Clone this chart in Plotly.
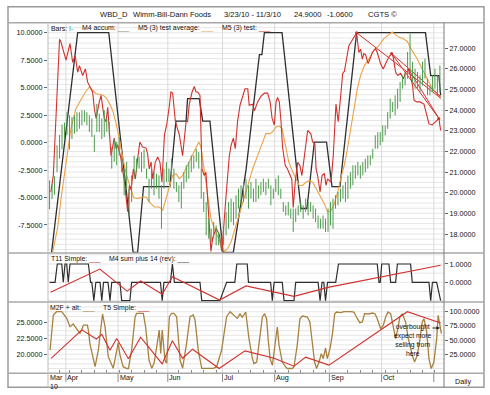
import numpy as np
import pandas as pd
import plotly.graph_objects as go

# ---------------- data ----------------
HOLIDAYS = ["2010-04-02", "2010-05-31", "2010-07-05", "2010-09-06"]
MONTH_NAMES = ["Mar", "Apr", "May", "Jun", "Jul", "Aug", "Sep", "Oct"]

BAR_HIGH = [20.6, 20.4, 20.8, 22.3, 22.8, 23.3, 23.4, 23.9, 23.75, 23.67,
            23.75, 23.9, 23.9, 24.0, 24.0, 23.9, 23.75, 23.6, 22.8, 24.3,
            23.83, 23.6, 24.0, 23.6, 23.43, 22.2, 22.6, 22.46, 22.7, 21.8,
            21.17, 21.5, 20.2, 20.84, 21.8, 21.65, 21.73, 21.97, 22.1, 21.17,
            20.68, 21.49, 21.0, 20.92, 20.84, 20.36, 21.17, 21.49, 21.17, 21.65,
            21.17, 20.52, 20.36, 20.52, 21.0, 21.33, 21.49, 21.81, 21.81, 22.13,
            21.97, 21.17, 20.04, 19.55, 18.74, 18.26, 18.58, 18.42, 18.1, 17.94,
            18.26, 19.07, 19.55, 19.71, 19.55, 19.88, 20.2, 20.36, 20.52, 20.68,
            20.36, 20.52, 20.2, 20.68, 20.36, 20.52, 20.68, 20.52, 20.68, 20.36,
            20.2, 20.68, 20.84, 20.2, 19.55, 19.39, 19.55, 19.23, 19.23, 19.23,
            19.39, 19.55, 19.39, 19.71, 19.55, 19.55, 19.39, 19.23, 18.9, 18.74,
            18.9, 18.74, 19.23, 19.55, 19.71, 19.88, 20.04, 20.2, 20.36, 20.52,
            20.84, 21.0, 21.33, 21.33, 21.49, 21.33, 21.49, 21.65, 21.81, 21.81,
            22.13, 22.78, 22.94, 22.94, 23.26, 23.26, 23.91, 24.56, 24.4, 24.72,
            25.04, 25.37, 25.69, 25.85, 26.82, 27.71, 26.34, 26.01, 25.85, 25.69,
            26.34, 26.5, 25.53, 25.2, 25.69, 26.01, 25.69, 26.17]
BAR_LOW = [19.2, 19.7, 19.9, 21.0, 21.65, 22.1, 22.6, 22.8, 22.1, 22.6,
           22.86, 22.95, 23.1, 23.27, 23.43, 23.27, 22.95, 22.7, 21.98, 22.95,
           22.95, 22.6, 22.7, 22.95, 22.8, 21.17, 21.5, 21.33, 21.8, 21.0,
           19.87, 20.2, 18.9, 19.55, 20.68, 21.0, 21.17, 21.0, 21.17, 20.68,
           19.55, 20.2, 19.88, 20.2, 19.71, 18.26, 20.2, 20.52, 20.52, 20.84,
           20.2, 20.04, 19.55, 19.23, 20.2, 20.52, 20.68, 21.0, 21.17, 21.49,
           21.17, 19.71, 19.07, 17.94, 17.77, 17.61, 17.77, 17.45, 17.45, 17.29,
           17.45, 17.94, 18.26, 18.58, 18.42, 18.74, 19.23, 19.39, 19.55, 19.71,
           19.23, 19.71, 19.55, 19.55, 19.71, 19.88, 20.04, 19.88, 20.2, 19.39,
           19.71, 20.04, 19.88, 19.71, 19.07, 18.9, 18.9, 18.74, 18.1, 18.58,
           18.9, 19.07, 18.74, 19.07, 18.9, 19.07, 18.74, 18.58, 18.26, 18.26,
           18.26, 18.1, 18.1, 18.42, 18.26, 19.23, 19.39, 19.55, 19.71, 19.55,
           19.71, 20.2, 20.36, 20.68, 20.84, 20.68, 20.84, 21.0, 21.17, 21.33,
           21.65, 22.13, 22.13, 22.3, 22.46, 22.78, 23.1, 23.59, 23.91, 23.75,
           24.07, 24.4, 25.04, 25.2, 25.53, 25.85, 25.37, 25.04, 25.04, 24.88,
           25.2, 25.53, 24.72, 24.72, 24.88, 25.04, 24.72, 24.88]

# (trading-day index, value) vertices of each line
M4_ACCUM = [(0.8, -10), (11.3, 10), (23.8, 10), (33.6, -10), (35.4, -10), (37.8, -4.0),
            (48.4, -4.0), (50.8, 1.95), (54.9, 1.95), (55.5, 4.0), (60.2, 4.0), (61.6, 1.95),
            (64.5, 1.95), (69.8, -10), (73.9, -10), (79.0, -2.5), (84.4, 8.0), (85.4, 8.0),
            (86.4, 10), (93.5, 10), (101.1, -6.0), (103.5, -6.0), (106.5, 0.05), (111.4, 0.05),
            (113.6, -4.0), (116.8, -4.0), (123.5, 10), (151.2, 10), (153.3, 6.1), (156.6, 6.1),
            (157.3, 4.3)]

M5_AVG = [(1.2, -10), (3.2, -7.8), (4.6, -5.1), (5.9, -3.0), (7.3, -0.55), (8.6, 1.3), (10.6, 3.1),
          (12.6, 3.9), (14.4, 4.6), (16.0, 5.06), (17.3, 4.75), (18.7, 4.45), (20.0, 4.4), (21.6, 4.3),
          (22.7, 4.1), (24.0, 3.6), (25.4, 2.9), (26.7, 1.8), (28.0, 0.4), (29.5, -1.5), (31.0, -3.0),
          (32.5, -4.2), (33.8, -5.0), (35.4, -5.1), (37.4, -4.95), (38.8, -4.95), (40.1, -5.4),
          (42.1, -5.86), (44.1, -5.86), (45.5, -6.16), (46.8, -5.1), (48.2, -3.9), (49.5, -3.0),
          (50.9, -2.83), (52.2, -3.28), (53.5, -3.0), (54.9, -2.37), (56.2, -1.76), (57.5, -1.16),
          (58.9, -0.55), (60.0, 0.05), (60.9, -0.4), (62.2, -2.37), (63.6, -4.8), (64.9, -6.92),
          (66.3, -7.83), (67.6, -8.59), (69.0, -9.35), (70.3, -9.9), (71.6, -9.65), (73.0, -9.04),
          (74.3, -8.13), (75.6, -7.07), (77.0, -6.0), (78.6, -4.8), (80.3, -3.6), (81.7, -2.4),
          (83.7, -1.16), (85.7, 0.05), (87.0, 0.81), (88.7, 0.81), (89.7, 0.97), (91.1, 1.42),
          (92.4, 1.5), (93.5, 1.27), (94.8, -0.25), (96.2, -1.76), (97.8, -2.67), (99.1, -3.28),
          (100.4, -3.9), (101.8, -3.9), (103.1, -3.6), (104.5, -3.45), (105.8, -3.6), (107.2, -4.19),
          (108.8, -4.8), (110.5, -5.56), (111.8, -6.31), (113.2, -6.2), (114.5, -5.6), (115.9, -4.5),
          (117.2, -3.2), (118.6, -2.0), (119.7, -0.7), (121.1, 1.27), (122.4, 3.09), (123.8, 4.91),
          (125.1, 6.12), (126.7, 7.03), (128.5, 7.64), (130.5, 8.4), (132.5, 8.85), (134.5, 9.46),
          (136.5, 9.82), (137.8, 10.06), (139.2, 9.8), (140.5, 9.6), (142.3, 9.45), (143.9, 9.2),
          (145.2, 8.6), (146.6, 8.1), (147.9, 7.6), (149.2, 7.0), (150.6, 6.3), (151.9, 5.8),
          (153.3, 5.2), (154.6, 4.76), (155.9, 4.45), (157.3, 4.0)]

M5_TEST = [(0.5, -4.5), (1.5, -3.0), (4.0, 9.4), (4.5, 9.2), (6.6, 7.5), (8.2, 9.0), (9.3, 7.3),
           (10.3, 7.9), (11.3, 6.4), (12.0, 7.0), (13.3, 6.1), (14.4, 6.7), (15.3, 5.5), (16.6, 4.9),
           (17.3, 4.6), (18.0, 3.1), (18.7, 2.2), (20.0, 3.7), (20.7, 4.3), (22.0, 2.2), (22.7, 1.9),
           (23.4, 3.2), (24.7, -1.2), (26.0, 0.4), (26.8, -0.6), (27.4, -0.2), (28.5, -1.2),
           (30.1, -3.6), (31.4, -6.3), (32.1, -3.9), (32.8, -4.3), (33.7, -2.4), (34.5, -3.3),
           (35.4, -1.5), (36.3, 0.05), (37.4, -0.4), (38.8, -0.5), (39.4, -1.0), (40.1, -2.4),
           (40.8, -1.8), (41.5, -3.3), (42.5, -1.8), (43.5, -1.3), (44.4, -1.8), (45.2, -3.6),
           (46.2, 0.7), (47.1, 1.6), (48.2, 3.4), (48.8, 4.6), (49.5, 4.5), (50.6, 1.9), (52.2, 0.7),
           (53.5, -1.2), (54.9, 1.9), (55.5, 1.9), (56.2, 3.5), (57.3, 4.6), (58.2, 5.1), (58.9, 4.6),
           (59.6, 4.6), (60.5, 4.3), (61.3, -2.4), (62.2, -3.0), (62.9, -2.7), (64.0, -6.3),
           (64.9, -9.9), (65.6, -8.7), (67.0, -7.8), (68.3, -8.4), (69.3, -9.9), (71.0, -4.8),
           (71.6, -3.3), (72.3, -1.2), (73.0, -0.25), (73.9, 0.4), (74.7, -0.55), (75.6, 1.9),
           (76.6, 3.4), (77.7, 4.3), (78.6, 4.9), (79.7, 4.9), (80.3, 3.4), (81.7, 3.5), (82.4, 2.9),
           (83.7, 3.7), (85.0, 4.2), (86.4, 4.5), (87.7, 4.5), (88.7, 3.7), (89.5, 2.2), (90.4, 1.6),
           (91.1, 3.7), (91.7, 4.1), (92.4, 3.7), (93.1, 1.9), (93.7, -0.4), (94.8, -2.1),
           (95.7, -2.4), (96.4, -2.8), (97.4, -3.3), (98.0, -5.9), (98.8, -3.6), (99.8, -1.8),
           (100.7, -2.1), (101.5, -3.0), (102.9, -0.55), (103.8, 1.1), (105.1, 0.8), (105.8, 0.05),
           (106.7, -0.1), (107.2, -2.4), (107.8, -3.0), (108.8, -4.5), (109.6, -3.0), (110.5, -2.8),
           (111.2, -3.9), (111.8, -3.3), (113.2, -3.6), (114.1, -1.2), (115.2, 3.5), (116.1, 1.9),
           (117.2, 4.5), (117.9, 6.3), (118.6, 6.5), (119.5, 7.6), (120.4, 8.85), (121.4, 9.2),
           (123.5, 10.0), (124.4, 8.2), (125.1, 8.5), (125.8, 7.6), (126.4, 8.1), (127.1, 8.0),
           (128.1, 7.2), (128.9, 7.6), (129.8, 8.2), (131.1, 8.55), (131.8, 8.2), (133.1, 7.2),
           (134.2, 6.7), (135.2, 7.2), (136.5, 7.8), (137.6, 8.1), (138.2, 7.8), (139.2, 6.4),
           (140.1, 6.1), (141.2, 6.3), (142.3, 5.8), (143.2, 6.4), (144.6, 6.6), (145.4, 5.8),
           (146.0, 5.2), (146.6, 3.85), (147.6, 3.7), (149.0, 3.7), (150.6, 3.5), (152.6, 1.7),
           (153.9, 1.6), (155.3, 1.9), (156.6, 2.2), (157.3, 1.1)]

TRENDLINES = [((123.5, 10.0), (157.3, 4.05)),
              ((137.6, 8.1), (157.3, 4.2)),
              ((137.6, 8.1), (156.6, 2.2)),
              ((144.6, 6.6), (156.6, 2.2))]
TREND_ANCHORS = [(123.5, 10.0), (137.6, 8.1), (144.6, 6.6), (156.6, 2.2)]

T11_SIMPLE = [(0.4, -0.55), (20.2, 0.72), (31.2, -0.48), (36.6, 0.07), (45.3, -0.65), (49.4, 0.3),
              (68.4, -0.97), (79.0, -0.2), (98.3, -0.77), (112.0, -0.28), (157.3, 0.93)]

M4_SUM = [(0.0, 0), (2.2, 0), (3.1, 1), (4.9, 1), (5.5, 0), (6.2, 1), (6.9, 1), (7.5, 0), (8.2, 1),
          (15.6, 1), (16.5, 0), (17.0, 0), (17.8, -1), (18.6, 0), (20.3, 0), (21.0, -1), (21.7, 0),
          (23.5, 0), (24.3, -1), (25.0, 0), (28.3, 0), (29.0, -1), (32.3, -1), (33.0, 0), (44.6, 0),
          (45.3, -1), (46.0, 0), (48.6, 0), (49.4, 1), (50.2, 0), (60.5, 0), (61.2, -1), (68.5, -1),
          (71.2, 0), (74.5, 0), (75.3, 1), (79.5, 1), (80.0, 0), (88.9, 0), (89.6, -1), (90.3, 0),
          (93.6, 0), (94.3, -1), (98.3, -1), (99.0, 0), (108.0, 0), (108.8, -1), (109.6, 0),
          (110.3, 0), (111.0, -1), (111.8, 0), (115.1, 0), (116.2, 1), (131.8, 1), (132.5, 0),
          (133.0, 0), (133.6, 1), (136.5, 1), (137.2, 0), (139.2, 0), (139.9, 1), (145.2, 1),
          (145.9, 0), (152.6, 0), (153.3, -1), (154.0, 0), (155.7, 0), (157.3, -1)]

M2F_ALT = [(0.2, 32.5), (1.5, 94.2), (2.8, 100), (4.9, 100), (6.9, 88.3), (8.2, 73.6), (9.5, 78.3),
           (10.9, 70.6), (12.2, 61.9), (12.9, 67.7), (13.6, 76.5), (15.2, 76.5), (15.6, 67.7),
           (16.2, 44.3), (18.3, 3.2), (19.6, 32.5), (20.9, 91.2), (21.3, 96), (22.3, 73.6),
           (23.6, 20.8), (25.6, 0.3), (27.0, 32.5), (27.6, 45), (28.3, 23.7), (29.6, 3.2), (31.0, 0),
           (31.7, 0), (33.0, 32.5), (34.4, 91.2), (35.0, 97), (37.7, 97), (38.6, 73.6), (40.0, 14.9),
           (41.1, 0.3), (42.0, 9.1), (43.1, 38.4), (44.1, 67.7), (44.7, 26.7), (45.3, 67.7),
           (46.4, 14.9), (47.1, 9.1), (48.2, 91.2), (49.1, 97), (50.0, 97), (51.1, 91.2),
           (52.5, 14.9), (53.5, 0.3), (55.1, 44.3), (56.5, 91.2), (57.8, 94.2), (58.5, 85.4),
           (59.8, 32.5), (61.2, 0.3), (65.9, 0.3), (67.2, 3.2), (69.2, 32.5), (71.2, 91.2),
           (72.6, 100), (73.9, 94.2), (75.5, 88.3), (76.6, 95.9), (77.5, 90), (78.9, 99.5),
           (80.2, 52.5), (81.6, 17.3), (82.2, 8.5), (83.3, 11.4), (84.2, 40.8), (85.6, 90.7),
           (86.5, 96.5), (87.3, 87.7), (87.9, 52.5), (88.7, 17.3), (89.6, 5.6), (90.3, 29),
           (90.9, 52.5), (91.6, 73.0), (92.3, 40.8), (93.6, 11.4), (95.0, 2.6), (95.6, 0), (97.6, 0),
           (98.3, 2.6), (99.6, 40.8), (100.7, 87.7), (101.7, 92.4), (103.7, 90.7), (104.7, 81.9),
           (105.7, 46.6), (106.6, 11.4), (107.4, 0), (108.4, 11.4), (109.3, 26.1), (110.1, 17.3),
           (111.0, 36.1), (111.7, 17.3), (112.8, 34.9), (113.7, 58.4), (114.7, 96.5), (115.5, 99.5),
           (117.1, 98.3), (118.4, 100), (121.1, 100), (122.4, 99.5), (123.8, 87.7), (124.8, 80.7),
           (125.8, 81.9), (126.7, 96.5), (128.5, 96), (129.8, 97.7), (130.9, 96.5), (131.8, 87.7),
           (133.2, 70.1), (134.2, 76), (135.2, 90.7), (136.1, 99.5), (137.2, 96.5), (138.3, 70.1),
           (139.2, 52.5), (140.1, 70.1), (140.9, 90.7), (141.9, 96.5), (143.2, 81.9), (144.3, 52.5),
           (145.2, 34.9), (145.9, 23.2), (146.8, 11.4), (147.9, 23.2), (149.0, 52.5), (149.9, 81.9),
           (150.6, 87.7), (151.7, 64.2), (152.6, 17.3), (153.5, 0), (154.6, 11.4), (155.7, 52.5),
           (156.3, 93.6), (157.0, 76), (157.6, 61.3)]

T5_SIMPLE = [(0.6, 18), (13.0, 68), (18.8, 52), (21.0, 60), (24.3, 32), (27.0, 53), (31.7, 17),
             (36.6, 55), (45.3, 8), (49.4, 49), (53.5, 18), (57.5, 34), (68.2, 0), (78.6, 31),
             (90.3, 18), (98.3, 4), (103.0, 20), (112.4, 6), (143.9, 100), (157.3, 80)]

LEFT_TICKS = [-7.5, -5.0, -2.5, 0.0, 2.5, 5.0, 7.5, 10.0]
RIGHT_TICKS = [18, 19, 20, 21, 22, 23, 24, 25, 26, 27]
P2_TICKS = [0, 1]
P3_RIGHT_TICKS = [25, 50, 75, 100]
P3_LEFT_TICKS = [20.0, 22.5, 25.0]

# ---------------- layout helpers ----------------
W, H = 490, 395
FONT = "Liberation Sans, Arial, Helvetica, sans-serif"
RED = "#d0312d"
BLACK = "#2e2e2e"
ORANGE = "#eba246"
BROWN = "#a8813f"
GREEN = "#4e9a4e"


def px(x):
    return x / W


def py(y):
    return 1 - y / H


X0, X1 = 48, 444
MAIN_T, MAIN_B = 22.7, 253
P2_B = 302
P3_B = 373.3
FRAME_B = 387.3

dates = pd.bdate_range("2010-03-23", "2010-11-03")
dates = dates[~dates.isin(pd.to_datetime(HOLIDAYS))]
N = len(dates)
month_first = [i for i in range(N) if i == 0 or dates[i].month != dates[i - 1].month]
mondays = [i for i in range(N) if dates[i].weekday() == 0]


def xy(pairs):
    return [p[0] for p in pairs], [p[1] for p in pairs]


fig = go.Figure()

# price bars
bx, by = [], []
for i, (h, l) in enumerate(zip(BAR_HIGH, BAR_LOW)):
    bx += [i, i, None]
    by += [l, h, None]
fig.add_trace(go.Scatter(x=bx, y=by, mode="lines", line=dict(color=GREEN, width=1),
                         yaxis="y2", hoverinfo="skip"))

for pairs, col, wd in [(M4_ACCUM, BLACK, 1.3), (M5_AVG, ORANGE, 1.1), (M5_TEST, RED, 1.1)]:
    x, y = xy(pairs)
    fig.add_trace(go.Scatter(x=x, y=y, mode="lines", line=dict(color=col, width=wd), yaxis="y"))

tx, ty = [], []
for (a, b) in TRENDLINES:
    tx += [a[0], b[0], None]
    ty += [a[1], b[1], None]
fig.add_trace(go.Scatter(x=tx, y=ty, mode="lines", line=dict(color=RED, width=1), yaxis="y"))
ax_, ay_ = xy(TREND_ANCHORS)
fig.add_trace(go.Scatter(x=ax_, y=ay_, mode="markers", marker=dict(color=RED, size=3), yaxis="y"))

x, y = xy(M4_SUM)
fig.add_trace(go.Scatter(x=x, y=y, mode="lines", line=dict(color=BLACK, width=1.2), yaxis="y3"))
x, y = xy(T11_SIMPLE)
fig.add_trace(go.Scatter(x=x, y=y, mode="lines", line=dict(color=RED, width=1.1), yaxis="y3"))

x, y = xy(M2F_ALT)
fig.add_trace(go.Scatter(x=x, y=y, mode="lines", line=dict(color=BROWN, width=1.3), yaxis="y4"))
x, y = xy(T5_SIMPLE)
fig.add_trace(go.Scatter(x=x, y=y, mode="lines", line=dict(color=RED, width=1.1), yaxis="y4"))
fig.add_trace(go.Scatter(x=[None], y=[None], mode="lines", yaxis="y5"))

# ---------------- shapes ----------------
shapes = []
GRID = "#e6e6e6"
for v in np.arange(17.25, 28.2, 0.25):
    shapes.append(dict(type="line", xref="paper", x0=px(X0), x1=px(X1), yref="y2", y0=v, y1=v,
                       line=dict(color=GRID, width=1), layer="below"))
for v in np.arange(-1.0, 1.6, 0.5):
    shapes.append(dict(type="line", xref="paper", x0=px(X0), x1=px(X1), yref="y3", y0=v, y1=v,
                       line=dict(color=GRID, width=1), layer="below"))
for v in np.arange(0, 117, 25 / 3):
    shapes.append(dict(type="line", xref="paper", x0=px(X0), x1=px(X1), yref="y4", y0=v, y1=v,
                       line=dict(color=GRID, width=1), layer="below"))
for m in month_first[1:]:
    shapes.append(dict(type="line", xref="x", x0=m - 0.45, x1=m - 0.45, yref="paper",
                       y0=py(P3_B), y1=py(MAIN_T), line=dict(color="#dadada", width=1), layer="below"))
    shapes.append(dict(type="line", xref="x", x0=m - 0.45, x1=m - 0.45, yref="paper",
                       y0=py(382), y1=py(P3_B), line=dict(color="#888", width=1)))


def pline(x0, y0, x1, y1, col, wd):
    shapes.append(dict(type="line", xref="paper", yref="paper", x0=px(x0), x1=px(x1),
                       y0=py(y0), y1=py(y1), line=dict(color=col, width=wd)))


shapes.append(dict(type="rect", xref="paper", yref="paper", x0=px(8), x1=px(484), y0=py(FRAME_B),
                   y1=py(6.7), line=dict(color="#9a9a9a", width=1.5)))
for yy in [MAIN_T, MAIN_B, P2_B, P3_B]:
    pline(8, yy, 484, yy, "#a8a8a8", 1.5)
pline(X0, MAIN_T, X0, FRAME_B, "#bdbdbd", 1)
pline(X1, MAIN_T, X1, FRAME_B, "#7a7a7a", 1)

# ---------------- annotations ----------------
anns = []


def ann(text, x, y, size=7.2, anchor="left", color="#111", **kw):
    d = dict(text=text, x=px(x), y=py(y), xref="paper", yref="paper", xanchor=anchor,
             yanchor="middle", showarrow=False, borderpad=0,
             font=dict(family=FONT, size=size, color=color))
    d.update(kw)
    anns.append(d)


for t, x in [("WBD_D", 99), ("Wimm-Bill-Dann Foods", 132), ("3/23/10 - 11/3/10", 223),
             ("24.9000", 293), ("-1.0600", 326), ("CGTS ©", 367)]:
    ann(t, x, 15, size=7.6)

LEG = 6.9
ann("Bars: <span style='color:%s'>I-</span>" % GREEN, 49.5, 28.5, LEG)
ann("M4 accum: <span style='color:#888'>___</span>", 80.7, 28.5, LEG)
ann("M5 (3) test average: <span style='color:%s'>___</span>" % ORANGE, 136.7, 28.5, LEG)
ann("M5 (3) test: <span style='color:%s'>___</span>" % RED, 220.7, 28.5, LEG)
ann("T11 Simple: <span style='color:%s'>___</span>" % RED, 50, 259, LEG)
ann("M4 sum plus 14 (rev): <span style='color:#444'>___</span>", 108, 259, LEG)
ann("M2F + alt: <span style='color:%s'>___</span>" % BROWN, 49, 307.5, LEG)
ann("T5 Simple: <span style='color:%s'>___</span>" % RED, 102, 307.5, LEG)

for name, m in zip(MONTH_NAMES, month_first):
    anns.append(dict(text=name, x=m - 0.45, y=py(377.3), xref="x", yref="paper", xanchor="left",
                     yanchor="middle", xshift=0.5, showarrow=False, borderpad=0,
                     font=dict(family=FONT, size=7.2, color="#111")))
ann("10", 49, 386.3, 7.0)
ann("Daily", 463, 381, 7.2, anchor="center")

ann("overbought<br>expect more<br>selling from<br>here", 412.5, 339.7, 6.8, anchor="center",
    align="center")
anns.append(dict(text="", x=px(440), y=py(328), xref="paper", yref="paper", showarrow=True,
                 ax=-9, ay=0, arrowhead=2, arrowsize=0.7, arrowwidth=1, arrowcolor="#222"))


def ticktext(vals):
    return ["%.4f" % v for v in vals]


AX = dict(showgrid=False, zeroline=False, showline=False, ticks="outside", ticklen=3,
          tickcolor="#666", tickfont=dict(family=FONT, size=7.2, color="#111"), anchor="x")

fig.update_layout(
    width=W, height=H, autosize=False, margin=dict(l=0, r=0, t=0, b=0),
    paper_bgcolor="white", plot_bgcolor="white", showlegend=False,
    xaxis=dict(domain=[px(X0), px(X1)], range=[-0.64, 158.65], anchor="y4", showgrid=False,
               zeroline=False, showline=False, showticklabels=False, ticks="inside", ticklen=3,
               tickcolor="#888", tickvals=mondays),
    yaxis=dict(AX, domain=[py(MAIN_B), py(MAIN_T)], range=[-10.05, 10.91], side="left",
               tickvals=LEFT_TICKS, ticktext=ticktext(LEFT_TICKS)),
    yaxis2=dict(AX, overlaying="y", side="right", range=[17.08, 28.24],
                tickvals=RIGHT_TICKS, ticktext=ticktext(RIGHT_TICKS)),
    yaxis3=dict(AX, domain=[py(P2_B), py(MAIN_B)], side="right", range=[-1.077, 1.6],
                tickvals=P2_TICKS, ticktext=ticktext(P2_TICKS)),
    yaxis4=dict(AX, domain=[py(P3_B), py(P2_B)], side="right", range=[-8.45, 117.1],
                tickvals=P3_RIGHT_TICKS, ticktext=ticktext(P3_RIGHT_TICKS)),
    yaxis5=dict(AX, overlaying="y4", side="left", range=[16.92, 28.31],
                tickvals=P3_LEFT_TICKS, ticktext=ticktext(P3_LEFT_TICKS)),
    shapes=shapes, annotations=anns,
)

fig.write_html("out.html", config={"displayModeBar": False},
               post_script="document.body.style.margin='0';")
